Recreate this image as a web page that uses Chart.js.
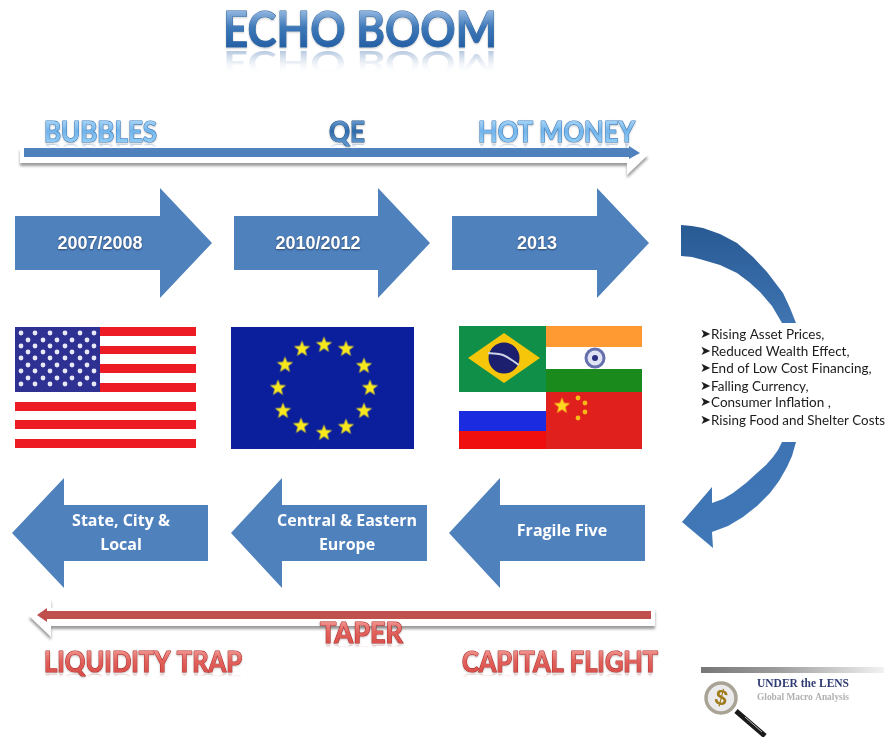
<!DOCTYPE html>
<html>
<head>
<meta charset="utf-8">
<title>Echo Boom</title>
<script src="https://cdn.jsdelivr.net/npm/chart.js@4/dist/chart.umd.min.js"></script>
<style>
  html, body { margin: 0; padding: 0; background: #fff; }
  canvas { display: block; }
</style>
</head>
<body>
<canvas id="chart" width="885" height="737"></canvas>
<script>
// arrows, in plot units
const rightArrowStart = [15, 234, 452];
const rightArrowNeck = [160, 378, 597];
const rightArrowTip = [212, 430, 649];
const rightArrowLabels = ["2007/2008", "2010/2012", "2013"];
const rightLabelX = [100, 318, 537];

const leftArrowTip = [12, 231, 449];
const leftArrowNeck = [64, 282, 500];
const leftArrowEnd = [208, 427, 645];
const leftArrowLabels = [["State, City &", "Local"], ["Central & Eastern", "Europe"], ["Fragile Five"]];
const leftLabelX = [121, 347, 562];

const effects = [
  "Rising Asset Prices,",
  "Reduced Wealth Effect,",
  "End of Low Cost Financing,",
  "Falling Currency,",
  "Consumer Inflation ,",
  "Rising Food and Shelter Costs"
];
const effectRows = [335, 352, 369, 387, 403, 421];

// curved arrow outlines
const curveTop = [[681, 225], [692, 226], [703, 228], [720, 234], [737, 243], [753, 257], [767, 272], [783, 293], [790, 308], [796, 323],
  [782, 323], [772, 306], [760, 292], [749, 282], [737, 273], [720, 265], [703, 260], [692, 257], [681, 256]];
const curveBottom = [[796, 442], [792, 456], [787, 467], [779, 481], [770, 493], [757, 506], [743, 517], [728, 526], [712, 532], [713, 548], [682, 522], [712, 487], [712, 503],
  [723, 499], [733, 493], [746, 483], [757, 473], [766, 465], [773, 457], [778, 450], [782, 442]];

// flags
const usRedRows = [[327, 336], [346, 354], [364, 373], [383, 392], [402, 411], [420, 429], [439, 448]];
const usStarRowsLong = [333, 346, 358, 371, 384];
const usStarRowsShort = [340, 352, 365, 378];
const usStarColsLong = [21, 35, 50, 65, 80, 94];
const usStarColsShort = [28, 43, 57, 72, 87];
const euStarX = [324, 346, 364, 370, 364, 346, 324, 301, 283, 278, 285, 302];
const euStarY = [345, 349, 366, 388, 411, 427, 433, 426, 411, 388, 365, 349];
const chinaSmallX = [578, 585, 585, 578];
const chinaSmallY = [398, 403, 412, 418];
const brazilBand = [[488, 353], [503, 355], [519, 365]];

const datasets = [];

function box(x0, y0, x1, y1) {
  return [[x0, y0], [x1, y0], [x1, y1], [x0, y1]];
}

// filled outline: the plugin below closes and fills the points
function addShape(points, fillColor, extra) {
  datasets.push(Object.assign({
    data: points.map(p => ({ x: p[0], y: p[1] })),
    fillColor: fillColor,
    pointRadius: 0,
    showLine: false
  }, extra || {}));
}

function addPoints(xs, ys, style) {
  const data = [];
  ys.forEach(y => xs.forEach(x => data.push({ x: x, y: y })));
  datasets.push(Object.assign({ data: data, showLine: false }, style));
}

function starImage(r, color) {
  const c = document.createElement("canvas");
  c.width = c.height = Math.ceil(r * 2 + 2);
  const g = c.getContext("2d");
  g.translate(c.width / 2, c.height / 2);
  g.beginPath();
  for (let i = 0; i < 10; i++) {
    const a = -Math.PI / 2 + i * Math.PI / 5;
    const d = i % 2 ? r * 0.42 : r;
    g.lineTo(Math.cos(a) * d, Math.sin(a) * d);
  }
  g.closePath();
  g.fillStyle = color;
  g.fill();
  return c;
}

// long white arrows behind the blue and red lines
const softShadow = { shadow: "rgba(0,0,0,0.4)", shadowY: 3 };
addShape([[20, 148], [627, 148], [627, 142], [648, 155], [627, 175], [627, 163], [20, 163]], "#ffffff", softShadow);
addShape([[24, 148], [629, 148], [629, 146], [640, 153], [629, 159], [629, 157], [24, 157]], "#4f81bd");
addShape([[29, 616], [51, 598], [51, 608], [655, 608], [655, 626], [51, 626], [51, 637]], "#ffffff", softShadow);
addShape([[37, 615], [47, 608], [47, 611], [651, 611], [651, 619], [47, 619], [47, 622]], "#c0504d");

// block arrows
rightArrowStart.forEach((start, i) => {
  const neck = rightArrowNeck[i];
  addShape([[start, 216], [neck, 216], [neck, 188], [rightArrowTip[i], 243], [neck, 298], [neck, 270], [start, 270]], "#4f81bd");
});
leftArrowTip.forEach((tip, i) => {
  const neck = leftArrowNeck[i];
  addShape([[tip, 533], [neck, 478], [neck, 505], [leftArrowEnd[i], 505], [leftArrowEnd[i], 561], [neck, 561], [neck, 588]], "#4f81bd");
});
addShape(curveTop, ["#285a93", "#3f74b2"]);
addShape(curveBottom, ["#3e74b3", "#4077b7"]);

// US flag
usRedRows.forEach(r => addShape(box(15, r[0], 196, r[1]), "#ed1c24"));
addShape(box(15, 327, 100, 392), "#2e3192");
addPoints(usStarColsLong, usStarRowsLong, { pointRadius: 2.4, backgroundColor: "#e8e9f6", borderWidth: 0 });
addPoints(usStarColsShort, usStarRowsShort, { pointRadius: 2.4, backgroundColor: "#e8e9f6", borderWidth: 0 });

// EU flag
addShape(box(231, 327, 414, 449), "#0b1f9c");
datasets.push({
  data: euStarX.map((x, i) => ({ x: x, y: euStarY[i] })),
  showLine: false,
  pointStyle: starImage(8.5, "#f7e81e")
});

// BRICS flags
addShape(box(459, 326, 546, 392), "#0f8f47");
addShape([[468, 358], [504, 333], [540, 358], [504, 383]], "#f6c60a");
addPoints([504], [358], { pointRadius: 15.5, backgroundColor: "#1c1e6e", borderWidth: 0 });
datasets.push({
  data: brazilBand.map(p => ({ x: p[0], y: p[1] })),
  showLine: true, tension: 0.4, borderColor: "#cdd3e6", borderWidth: 2, pointRadius: 0
});
addShape(box(546, 326, 642, 347), "#ff9a33");
addShape(box(546, 369, 642, 392), "#1a8a1c");
addPoints([595], [358], { pointRadius: 9, backgroundColor: "#dfe3f3", borderColor: "#6670ac", borderWidth: 3 });
addPoints([595], [358], { pointRadius: 3, backgroundColor: "#2a2f80", borderWidth: 0 });
addShape(box(459, 411, 546, 431), "#1a2be0");
addShape(box(459, 431, 546, 449), "#f00f0f");
addShape(box(546, 392, 642, 449), "#e0201c");
datasets.push({ data: [{ x: 562, y: 406 }], showLine: false, pointStyle: starImage(8.5, "#ffd920") });
datasets.push({
  data: chinaSmallX.map((x, i) => ({ x: x, y: chinaSmallY[i] })),
  showLine: false, pointRadius: 2.4, backgroundColor: "#f8b818", borderWidth: 0
});

// logo: bar, handle, lens
addShape(box(701, 667, 884, 673), [["#777777", 0], ["#9a9a9a", 0.4], ["#f2f2f2", 1]], { horizontal: true });
datasets.push({
  data: [{ x: 736, y: 711 }, { x: 765, y: 736 }],
  showLine: true, borderColor: "#1b1b1b", borderWidth: 5, pointRadius: 0
});
datasets.push({
  data: [{ x: 745, y: 717 }, { x: 762, y: 732 }],
  showLine: true, borderColor: "#b8b8b8", borderWidth: 1, pointRadius: 0
});
addPoints([721], [698], { pointRadius: 15, backgroundColor: "#ebebee", borderColor: "#a8a394", borderWidth: 3.5 });

datasets.forEach((d, i) => { d.order = datasets.length - i; });

function verticalFill(ctx, meta, colors) {
  const ys = meta.data.map(p => p.y);
  const g = ctx.createLinearGradient(0, Math.min(...ys), 0, Math.max(...ys));
  g.addColorStop(0, colors[0]);
  g.addColorStop(1, colors[1]);
  return g;
}

// fills closed outlines out of the points the scales placed
const shapeFill = {
  id: "shapeFill",
  beforeDatasetDraw(chart, args) {
    const ds = chart.data.datasets[args.index];
    if (!ds.fillColor) return;
    const ctx = chart.ctx;
    const pts = args.meta.data;
    ctx.save();
    if (ds.horizontal) {
      const g = ctx.createLinearGradient(pts[0].x, 0, pts[1].x, 0);
      ds.fillColor.forEach(s => g.addColorStop(s[1], s[0]));
      ctx.fillStyle = g;
    } else {
      ctx.fillStyle = Array.isArray(ds.fillColor) ? verticalFill(ctx, args.meta, ds.fillColor) : ds.fillColor;
    }
    if (ds.shadow) {
      ctx.shadowColor = ds.shadow;
      ctx.shadowBlur = 3;
      ctx.shadowOffsetY = ds.shadowY;
    }
    ctx.beginPath();
    pts.forEach((p, i) => (i ? ctx.lineTo(p.x, p.y) : ctx.moveTo(p.x, p.y)));
    ctx.closePath();
    ctx.fill();
    ctx.restore();
  }
};

const LATO = "Lato, 'DejaVu Sans', sans-serif";

// big headings with gradient, edge and fading reflection
function glossy(chart, text, left, base, width, size, cols) {
  const ctx = chart.ctx;
  const x = chart.scales.x.getPixelForValue(left);
  const y = chart.scales.y.getPixelForValue(base);
  const cap = size * 0.72;
  ctx.save();
  ctx.font = "bold " + size + "px " + LATO;
  ctx.textAlign = "left";
  ctx.textBaseline = "alphabetic";
  ctx.lineJoin = "round";

  ctx.save();
  ctx.translate(0, y * (1 + cols.reflect) + cols.gap);
  ctx.scale(1, -cols.reflect);
  const r = ctx.createLinearGradient(0, y, 0, y - cap);
  r.addColorStop(0, cols.mirror);
  r.addColorStop(1, "rgba(255,255,255,0)");
  ctx.fillStyle = r;
  ctx.fillText(text, x, y, width);
  ctx.restore();

  ctx.save();
  ctx.shadowColor = "rgba(0,0,0,0.3)";
  ctx.shadowBlur = 2;
  ctx.shadowOffsetY = 1;
  ctx.strokeStyle = cols.edge;
  ctx.lineWidth = cols.line;
  ctx.strokeText(text, x, y, width);
  ctx.restore();

  const g = ctx.createLinearGradient(0, y - cap, 0, y);
  g.addColorStop(0, cols.top);
  g.addColorStop(0.45, cols.mid);
  g.addColorStop(1, cols.bottom);
  ctx.fillStyle = g;
  ctx.fillText(text, x, y, width);
  ctx.restore();
}

const titleLook = { top: "#8db3de", mid: "#3d78b8", bottom: "#2560a6", edge: "#2f659f", line: 1, reflect: 0.68, gap: 4, mirror: "rgba(60,110,170,0.38)" };
const skyLook = { top: "#9fd0f5", mid: "#72b4ea", bottom: "#8fcbf4", edge: "#3f7fc0", line: 1.2, reflect: 0.3, gap: 2, mirror: "rgba(70,120,180,0.3)" };
const qeLook = { top: "#5f93c9", mid: "#2f6aa8", bottom: "#5a94cc", edge: "#24568c", line: 1.1, reflect: 0.3, gap: 2, mirror: "rgba(70,120,180,0.3)" };
const redLook = { top: "#ee8d88", mid: "#e2625d", bottom: "#d9504c", edge: "#b5302c", line: 1.2, reflect: 0.2, gap: 2, mirror: "rgba(190,70,70,0.3)" };

const textLayer = {
  id: "textLayer",
  afterDatasetsDraw(chart) {
    const ctx = chart.ctx;
    const px = v => chart.scales.x.getPixelForValue(v);
    const py = v => chart.scales.y.getPixelForValue(v);

    glossy(chart, "ECHO BOOM", 223, 47, 274, 49, titleLook);
    glossy(chart, "BUBBLES", 44, 142, 113, 28, skyLook);
    glossy(chart, "QE", 329, 142, 36, 28, qeLook);
    glossy(chart, "HOT MONEY", 478, 142, 157, 28, skyLook);
    glossy(chart, "TAPER", 320, 643, 83, 28, redLook);
    glossy(chart, "LIQUIDITY TRAP", 44, 672, 198, 28, redLook);
    glossy(chart, "CAPITAL FLIGHT", 462, 672, 196, 28, redLook);

    ctx.save();
    ctx.textAlign = "center";
    ctx.textBaseline = "middle";
    ctx.fillStyle = "#ffffff";
    ctx.shadowColor = "rgba(0,0,0,0.45)";
    ctx.shadowBlur = 2;
    ctx.shadowOffsetY = 1;
    ctx.font = "bold 18px 'Liberation Sans', sans-serif";
    rightArrowLabels.forEach((t, i) => {
      ctx.fillText(t, px(rightLabelX[i]), py(244));
    });
    ctx.shadowColor = "transparent";
    ctx.font = "bold 16px 'Open Sans', sans-serif";
    leftArrowLabels.forEach((lines, i) => {
      lines.forEach((t, k) => {
        const row = lines.length > 1 ? 521 + k * 24 : 531;
        ctx.fillText(t, px(leftLabelX[i]), py(row));
      });
    });
    ctx.restore();

    ctx.save();
    ctx.textAlign = "left";
    ctx.textBaseline = "middle";
    ctx.fillStyle = "#1c1c1c";
    effects.forEach((t, i) => {
      ctx.font = "13px 'DejaVu Sans', sans-serif";
      ctx.fillText("\u27A4", px(700), py(effectRows[i]));
      ctx.font = "13.5px " + LATO;
      ctx.fillText(t, px(711), py(effectRows[i]), 174);
    });
    ctx.restore();

    // logo text
    ctx.save();
    ctx.textAlign = "left";
    ctx.textBaseline = "alphabetic";
    ctx.font = "bold 11.5px 'Liberation Serif', serif";
    ctx.fillStyle = "#2f3b73";
    ctx.fillText("UNDER the LENS", px(757), py(687), 92);
    ctx.font = "bold 9.5px 'Liberation Serif', serif";
    ctx.fillStyle = "#b0b0b0";
    ctx.fillText("Global Macro Analysis", px(757), py(700), 92);
    ctx.translate(px(721), py(699));
    ctx.rotate(0.25);
    ctx.textAlign = "center";
    ctx.textBaseline = "middle";
    ctx.font = "bold 22px 'Liberation Sans', sans-serif";
    ctx.fillStyle = "#a07c1c";
    ctx.fillText("$", 0, 0);
    ctx.restore();
  }
};

new Chart(document.getElementById("chart"), {
  type: "scatter",
  data: { datasets: datasets },
  plugins: [shapeFill, textLayer],
  options: {
    responsive: false,
    animation: false,
    layout: { padding: 0, autoPadding: false },
    plugins: { legend: { display: false }, tooltip: { enabled: false }, title: { display: false } },
    scales: {
      x: { type: "linear", min: 0, max: 885, display: false },
      y: { type: "linear", min: 0, max: 737, reverse: true, display: false }
    }
  }
});
</script>
</body>
</html>
